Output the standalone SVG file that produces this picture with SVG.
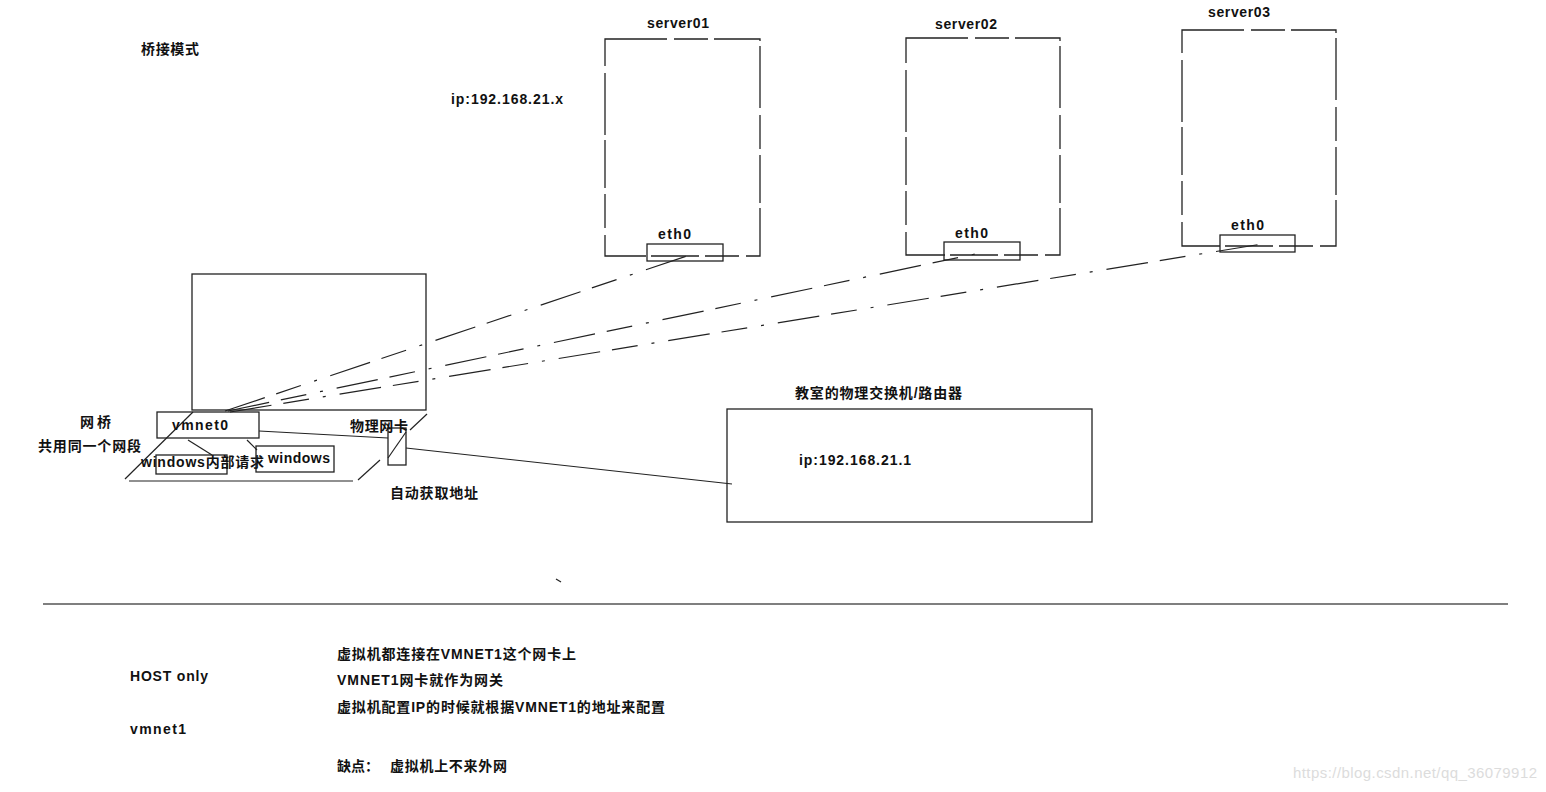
<svg xmlns="http://www.w3.org/2000/svg" width="1546" height="792" viewBox="0 0 1546 792">
<style>
text{font-family:"Liberation Sans","Noto Sans CJK SC",sans-serif;font-size:14px;font-weight:bold;fill:#111}
.box{fill:none;stroke:#222;stroke-width:1.3}
.srv{fill:none;stroke:#222;stroke-width:1.3;stroke-dasharray:62 7 34 6 48 5}
.ln{fill:none;stroke:#222;stroke-width:1.2}
.dl{fill:none;stroke:#222;stroke-width:1.2;stroke-dasharray:42 12 26 14 3 14}
.wm{font-family:"Liberation Sans",sans-serif;font-weight:normal;font-size:15px;fill:#dcdcdc}
</style>
<rect width="1546" height="792" fill="#fff"/>
<text x="141" y="54" textLength="58" lengthAdjust="spacing">桥接模式</text>
<text x="451" y="104" textLength="112" lengthAdjust="spacing">ip:192.168.21.x</text>
<g id="server01">
<rect class="srv" x="605" y="39" width="155" height="217"/>
<text x="647" y="28" textLength="62" lengthAdjust="spacing">server01</text>
<rect class="box" x="647" y="244" width="76" height="17"/>
<text x="658" y="239" textLength="33" lengthAdjust="spacing">eth0</text>
</g>
<g id="server02">
<rect class="srv" x="906" y="38" width="154" height="217"/>
<text x="935" y="29" textLength="62" lengthAdjust="spacing">server02</text>
<rect class="box" x="944" y="242" width="76" height="18"/>
<text x="955" y="238" textLength="33" lengthAdjust="spacing">eth0</text>
</g>
<g id="server03">
<rect class="srv" x="1182" y="30" width="154" height="216"/>
<text x="1208" y="17" textLength="62" lengthAdjust="spacing">server03</text>
<rect class="box" x="1220" y="235" width="75" height="17"/>
<text x="1231" y="230" textLength="33" lengthAdjust="spacing">eth0</text>
</g>
<g id="host">
<rect class="box" x="192" y="274" width="234" height="136"/>
<line class="ln" x1="193" y1="412" x2="125" y2="479"/>
<line class="ln" x1="129" y1="481" x2="353" y2="481"/>
<line class="ln" x1="427" y1="414" x2="410" y2="430"/>
<line class="ln" x1="380" y1="460" x2="358" y2="480"/>
</g>
<g id="vmnet0">
<rect class="box" x="157" y="412" width="102" height="26" fill="#fff"/>
<text x="172" y="430" textLength="56" lengthAdjust="spacing">vmnet0</text>
</g>
<g id="bridge-label">
<text x="80" y="427" textLength="31" lengthAdjust="spacing">网桥</text>
<text x="38" y="451" textLength="103" lengthAdjust="spacing">共用同一个网段</text>
</g>
<g id="win-internal">
<rect class="box" x="156" y="455" width="71" height="19"/>
<text x="141" y="467" textLength="123" lengthAdjust="spacing">windows内部请求</text>
</g>
<g id="windows">
<rect class="box" x="256" y="446" width="78" height="26"/>
<text x="268" y="463" textLength="62" lengthAdjust="spacing">windows</text>
</g>
<g id="nic">
<rect class="box" x="388" y="428" width="18" height="37"/>
<line class="ln" x1="388" y1="458" x2="406" y2="432"/>
<text x="350" y="431" textLength="58" lengthAdjust="spacing">物理网卡</text>
<text x="390" y="498" textLength="88" lengthAdjust="spacing">自动获取地址</text>
</g>
<g id="switch">
<rect class="box" x="727" y="409" width="365" height="113"/>
<text x="795" y="398" textLength="167" lengthAdjust="spacing">教室的物理交换机/路由器</text>
<text x="799" y="465" textLength="112" lengthAdjust="spacing">ip:192.168.21.1</text>
</g>
<g id="connectors">
<line class="dl" x1="225" y1="411" x2="690" y2="255"/>
<line class="dl" x1="228" y1="411" x2="980" y2="253"/>
<line class="dl" x1="230" y1="412" x2="1262" y2="244"/>
<line class="ln" x1="259" y1="431" x2="388" y2="438"/>
<line class="ln" x1="406" y1="448" x2="732" y2="484"/>
<line class="ln" x1="188" y1="440" x2="212" y2="455"/>
<line class="ln" x1="247" y1="440" x2="257" y2="450"/>
</g>
<line class="ln" x1="556" y1="579" x2="561" y2="582" stroke-width="1.6"/>
<line x1="43" y1="604" x2="1508" y2="604" stroke="#555" stroke-width="1.3"/>
<text x="130" y="681" textLength="78" lengthAdjust="spacing">HOST only</text>
<text x="130" y="734" textLength="56" lengthAdjust="spacing">vmnet1</text>
<text x="337" y="659" textLength="239" lengthAdjust="spacing">虚拟机都连接在VMNET1这个网卡上</text>
<text x="337" y="685" textLength="166" lengthAdjust="spacing">VMNET1网卡就作为网关</text>
<text x="337" y="712" textLength="328" lengthAdjust="spacing">虚拟机配置IP的时候就根据VMNET1的地址来配置</text>
<text x="337" y="771">缺点：</text>
<text x="390" y="771" textLength="117" lengthAdjust="spacing">虚拟机上不来外网</text>
<text class="wm" x="1293" y="778" textLength="244" lengthAdjust="spacing">https://blog.csdn.net/qq_36079912</text>
</svg>
